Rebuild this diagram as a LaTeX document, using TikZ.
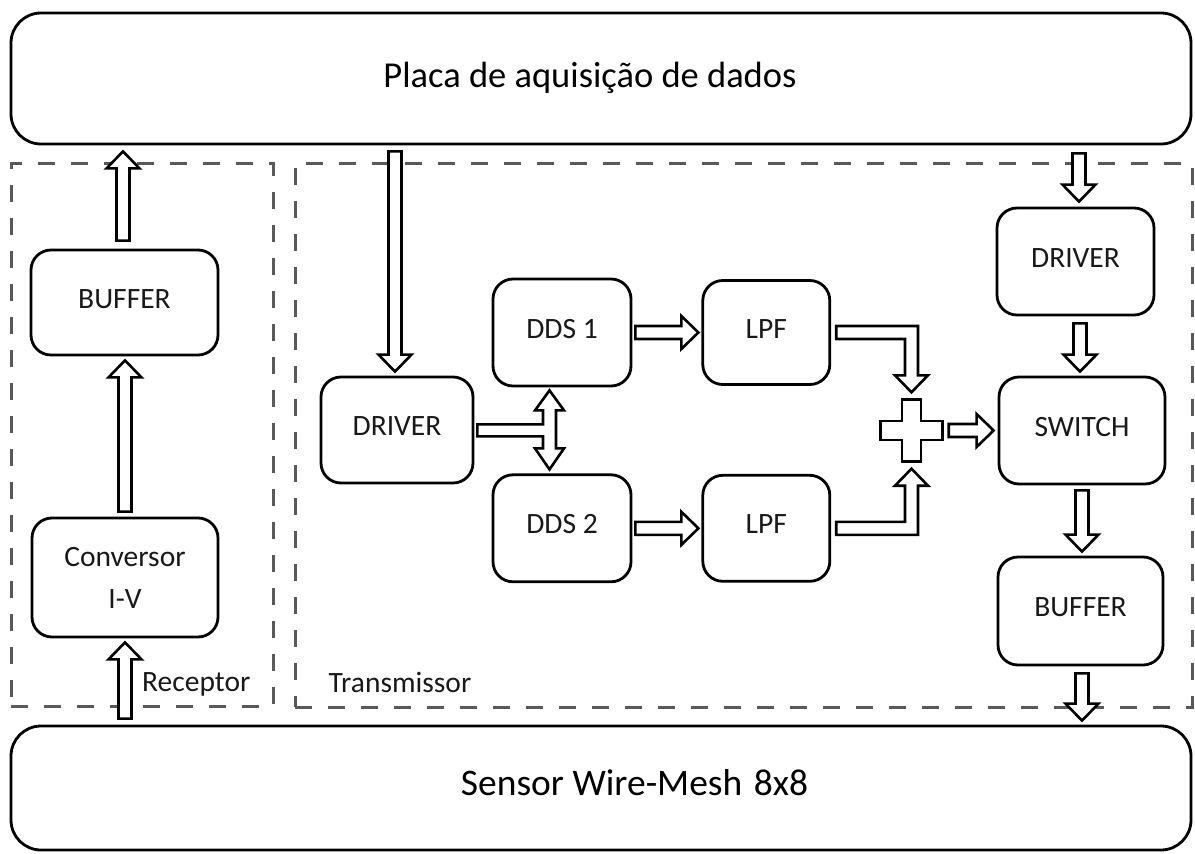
\documentclass[tikz,border=0pt]{standalone}
\usepackage{fontspec}
\setmainfont{Carlito}
\usetikzlibrary{calc,positioning}
\tikzset{
  unit/.style={draw=black, line width=2.8pt, rounded corners=20pt, fill=white,
    inner sep=0pt, align=center, text=black!90,
    font=\fontsize{29.5}{42}\selectfont},
  oneline/.style={unit, text height=11pt, text depth=0pt},
  board/.style={draw=black, line width=2.8pt, rounded corners=30pt, inner sep=0pt},
  bigtxt/.style={font=\fontsize{36.5}{40}\selectfont, text height=17pt,
    text depth=0pt, inner sep=0pt},
  grp/.style={draw=black!65, line width=3pt, dash pattern=on 17pt off 16pt,
    inner sep=0pt},
  lbl/.style={font=\fontsize{29.5}{34}\selectfont, text=black!90, inner sep=0pt},
  blkline/.style={draw=black, line width=2.6pt, fill=white, line join=miter},
  blk/.style={blkline, to path={
    ($(\tikztostart)!6.5pt!90:(\tikztotarget)$)
    -- ($($(\tikztotarget)!17pt!(\tikztostart)$)!6.5pt!90:(\tikztotarget)$)
    -- ($($(\tikztotarget)!17pt!(\tikztostart)$)!16.5pt!90:(\tikztotarget)$)
    -- (\tikztotarget)
    -- ($($(\tikztotarget)!17pt!(\tikztostart)$)!16.5pt!-90:(\tikztotarget)$)
    -- ($($(\tikztotarget)!17pt!(\tikztostart)$)!6.5pt!-90:(\tikztotarget)$)
    -- ($(\tikztostart)!6.5pt!-90:(\tikztotarget)$)
    -- cycle}}
}

\begin{document}
\begin{tikzpicture}[x=1pt, y=-1pt]
  \useasboundingbox (0,0) rectangle (1195,854);

  % group frames
  \node[grp, minimum width=262pt, minimum height=543pt] (rx) at (142,434.5) {};
  \node[grp, minimum width=897pt, minimum height=544pt] (tx) at (743.5,435) {};
  \node[lbl, anchor=base east] (rxlbl) at ($(rx.south east)+(-24,-16)$) {Receptor};
  \node[lbl, anchor=base west] (txlbl) at ($(tx.south west)+(35,-16)$) {Transmissor};

  % boards
  \node[board, minimum width=1180pt, minimum height=131pt,
    label={[bigtxt, xshift=-11pt]center:Placa de aquisição de dados}] (placa) at (601,78.5) {};
  \node[board, minimum width=1180pt, minimum height=124pt,
    label={[bigtxt, font=\fontsize{37.5}{40}\selectfont, xshift=33.5pt, yshift=1.5pt]center:Sensor Wire-Mesh\hspace{3pt} 8x8}] (sensor) at (601,788) {};

  % receptor
  \node[oneline, minimum width=187pt, minimum height=105pt] (bufR) at (124.5,302.5) {BUFFER};
  \node[unit, minimum width=186pt, minimum height=119pt] (conv) at (125,577.5) {Conversor\\I-V};
  \draw[blk] ($(conv.north)+(0,-5)$) to ($(conv.north |- bufR.south)+(0,4)$);
  \draw[blk] ($(bufR.north)+(-1.5,-8)$) to ($(bufR.north |- placa.south)+(-1.5,6)$);
  \draw[blk] ($(conv.south |- sensor.north)+(0,-6)$) to ($(conv.south)+(0,4)$);

  % transmissor: generation
  \node[oneline, minimum width=152pt, minimum height=106pt] (drvT) at (397,430) {DRIVER};
  \node[oneline, minimum width=138pt, minimum height=107pt] (dds1) at (562,332.5) {DDS 1};
  \node[oneline, minimum width=138pt, minimum height=107pt, below=86pt of dds1] (dds2) {DDS 2};
  \node[oneline, minimum width=127pt, minimum height=104pt, right=69pt of dds1] (lpf1) {LPF};
  \node[oneline, minimum width=127pt, minimum height=106pt, right=69pt of dds2] (lpf2) {LPF};
  \node[inner sep=0pt, minimum size=62pt] (plus) at (911.5,430.5) {};
  \coordinate (jn) at ($(dds1.south)!0.5!(dds2.north)+(-12.5,0)$);

  \draw[blk] ($(drvT.north |- placa.south)+(-2,6)$) to ($(drvT.north)+(-2,-4)$);
  \draw[blkline] ($(drvT.east |- jn)+(3,-6)$) -- ($(jn)+(-6.5,-6)$) -- ($(jn)+(-6.5,-20)$)
    -- ++(-8,0) -- ($(dds1.south)+(-12.5,3)$) -- ($(jn)+(14.5,-20)$) -- ++(-8,0)
    -- ($(jn)+(6.5,18)$) -- ++(8,0) -- ($(dds2.north)+(-12.5,-4)$) -- ($(jn)+(-14.5,18)$)
    -- ++(8,0) -- ($(jn)+(-6.5,6)$) -- ($(drvT.east |- jn)+(3,6)$) -- cycle;
  \draw[blk] ($(dds1.east)+(3,0)$) to ($(lpf1.west)+(-3,0)$);
  \draw[blk] ($(dds2.east)+(3,0)$) to ($(lpf2.west)+(-3,0)$);

  % adder
  \draw[blkline] ($(plus.north)+(-9.5,0)$) -- ++(19,0) -- ++(0,21.5) -- ++(21.5,0)
    -- ++(0,19) -- ++(-21.5,0) -- ++(0,21.5) -- ++(-19,0) -- ++(0,-21.5)
    -- ++(-21.5,0) -- ++(0,-19) -- ++(21.5,0) -- cycle;
  \draw[blkline] ($(lpf1.east)+(5,-6.5)$) -| ($(plus.north)+(6.5,-24)$) -- ++(10,0)
    -- ($(plus.north)+(0,-7)$) -- ++(-16.5,-17) -- ++(10,0) |- ($(lpf1.east)+(5,6.5)$) -- cycle;
  \draw[blkline] ($(lpf2.east)+(5,6.5)$) -| ($(plus.south)+(6.5,24)$) -- ++(10,0)
    -- ($(plus.south)+(0,7)$) -- ++(-16.5,17) -- ++(10,0) |- ($(lpf2.east)+(5,-6.5)$) -- cycle;

  % transmissor: output chain
  \node[oneline, minimum width=157pt, minimum height=107pt] (drvR) at (1075.5,261.5) {DRIVER};
  \node[oneline, minimum width=166pt, minimum height=107pt] (sw) at (1082,430.5) {SWITCH};
  \node[oneline, minimum width=165pt, minimum height=108pt] (bufT) at (1080.5,611) {BUFFER};
  \draw[blk] ($(plus.east)+(6,0)$) to ($(sw.west)+(-4,0)$);
  \draw[blk] ($(drvR.north |- placa.south)+(3.5,8)$) to ($(drvR.north)+(3.5,-5)$);
  \draw[blk] ($(drvR.south)+(4.5,7)$) to ($(drvR.south |- sw.north)+(4.5,-4)$);
  \draw[blk] ($(sw.south)+(0,5)$) to ($(sw.south |- bufT.north)+(0,-4)$);
  \draw[blk] ($(bufT.south)+(1.5,7)$) to ($(bufT.south |- sensor.north)+(1.5,-4)$);
\end{tikzpicture}
\end{document}
